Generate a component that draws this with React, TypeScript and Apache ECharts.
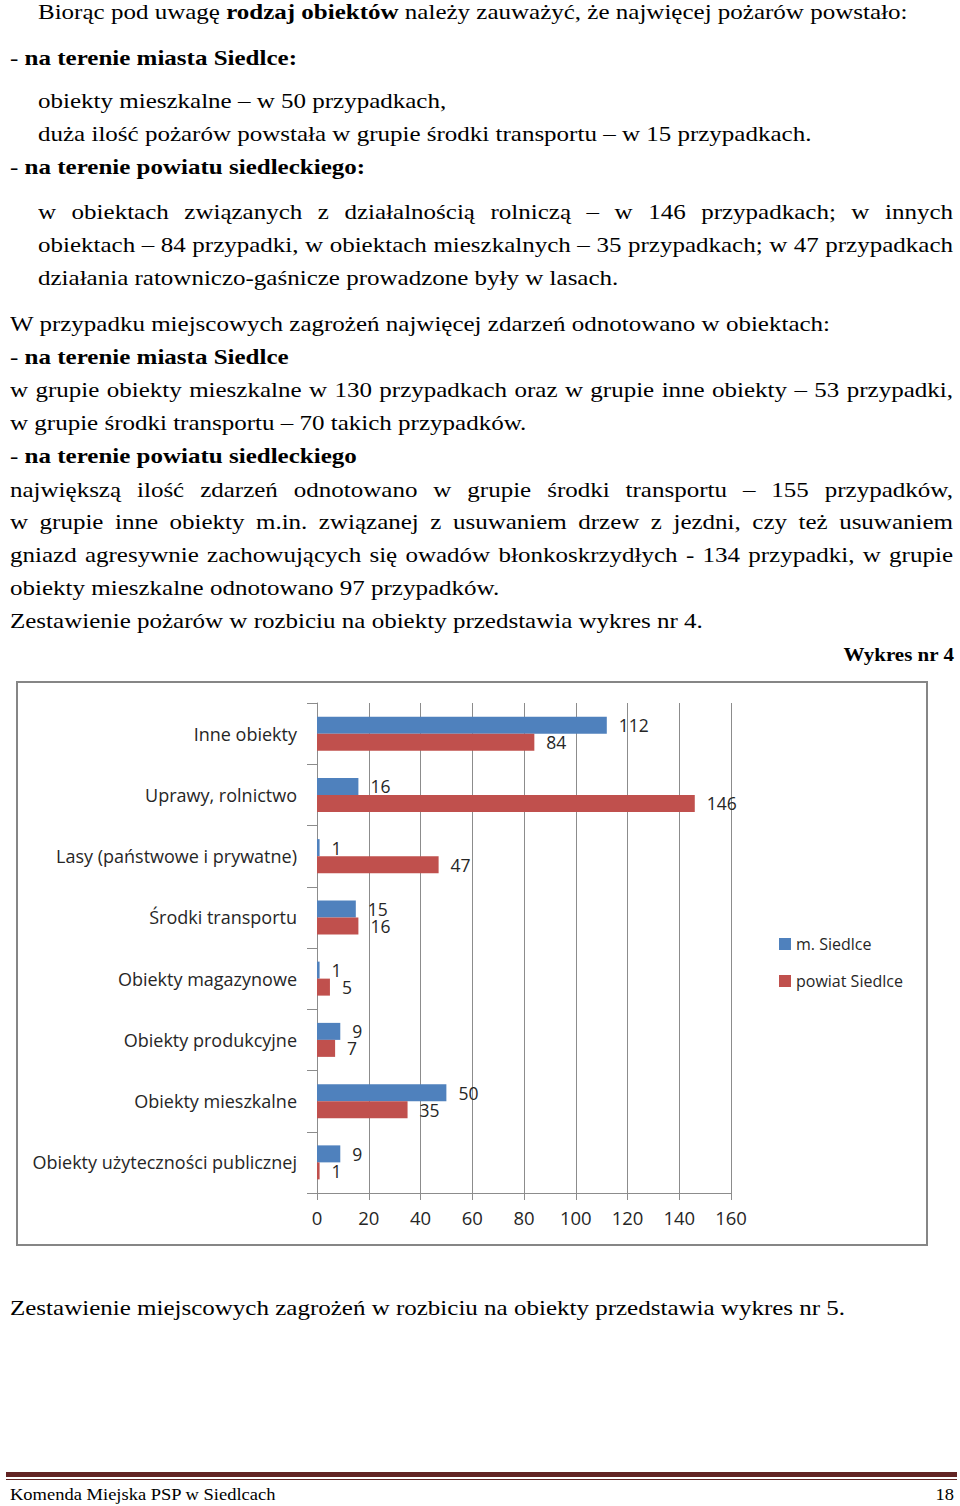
import React, { useEffect, useRef } from "react";
import * as echarts from "echarts";

const categories = [
  "Inne obiekty",
  "Uprawy, rolnictwo",
  "Lasy (państwowe i prywatne)",
  "Środki transportu",
  "Obiekty magazynowe",
  "Obiekty produkcyjne",
  "Obiekty mieszkalne",
  "Obiekty użyteczności publicznej",
];
const miastoSiedlce = [112, 16, 1, 15, 1, 9, 50, 9];
const powiatSiedlce = [84, 146, 47, 16, 5, 7, 35, 1];
const seriesNames = ["m. Siedlce", "powiat Siedlce"];
const axisMin = 0;
const axisMax = 160;
const axisStep = 20;

const SY = 0.85;
const LH = 0.9;
const DY = 1.5;
const SERIF = '"Liberation Serif", "Times New Roman", serif';

type LineProps = {
  x: number;
  base: number;
  size?: number;
  width?: number;
  right?: boolean;
  children: React.ReactNode;
};

function Line({ x, base, size = 25, width, right, children }: LineProps) {
  const asc = (0.891 - (1.107 - LH) / 2) * size;
  const style: React.CSSProperties = {
    position: "absolute",
    top: base + DY - asc,
    fontSize: size,
    lineHeight: size * LH + "px",
    fontFamily: SERIF,
    color: "#000",
    whiteSpace: "nowrap",
    transform: `scaleY(${SY})`,
    transformOrigin: `0 ${asc}px`,
  };
  if (right) {
    style.right = 960 - x;
    style.textAlign = "right";
  } else {
    style.left = x;
  }
  if (width) {
    style.width = width;
    style.textAlign = "justify";
    (style as any).textAlignLast = "justify";
  }
  return <div style={style}>{children}</div>;
}

function Chart() {
  const ref = useRef<HTMLDivElement>(null);
  useEffect(() => {
    if (!ref.current) return;
    const chart = echarts.init(ref.current, undefined, { renderer: "svg" });
    const font = '"Open Sans", sans-serif';
    const txt = "#262626";
    const grey = "#8c8c8c";
    const labelCfg = {
      show: true,
      position: "right",
      distance: 12,
      fontSize: 17.5,
      color: txt,
      fontFamily: font,
    };
    chart.setOption({
      animation: false,
      backgroundColor: "#fff",
      textStyle: { fontFamily: font },
      grid: { left: 301, right: 197, top: 22, bottom: 53, containLabel: false },
      xAxis: {
        type: "value",
        min: axisMin,
        max: axisMax,
        interval: axisStep,
        axisLine: { show: true, lineStyle: { color: grey, width: 1 } },
        axisTick: { show: true, length: 7, lineStyle: { color: grey } },
        splitLine: { show: true, lineStyle: { color: grey, width: 1 } },
        axisLabel: { fontSize: 18.5, color: txt, margin: 15, fontFamily: font },
      },
      yAxis: {
        type: "category",
        data: categories,
        inverse: true,
        axisLine: { show: true, lineStyle: { color: grey, width: 1 } },
        axisTick: { show: true, length: 10, lineStyle: { color: grey } },
        axisLabel: { fontSize: 18, color: txt, margin: 20, fontFamily: font },
      },
      legend: {
        orient: "vertical",
        left: 758,
        top: 250,
        itemWidth: 12,
        itemHeight: 12,
        itemGap: 21,
        icon: "rect",
        data: seriesNames,
        textStyle: { fontSize: 16, color: txt, fontFamily: font },
      },
      series: [
        {
          name: seriesNames[0],
          type: "bar",
          data: miastoSiedlce,
          barWidth: 17,
          barGap: "0%",
          itemStyle: { color: "#4F81BD" },
          label: labelCfg,
        },
        {
          name: seriesNames[1],
          type: "bar",
          data: powiatSiedlce,
          barWidth: 17,
          barGap: "0%",
          itemStyle: { color: "#C0504D" },
          label: labelCfg,
        },
      ],
      graphic: [
        {
          type: "rect",
          silent: true,
          z: 100,
          shape: { x: 1, y: 1, width: 910, height: 563 },
          style: { fill: "none", stroke: "#868686", lineWidth: 2 },
        },
      ],
    });
    return () => chart.dispose();
  }, []);
  return (
    <div
      ref={ref}
      style={{ position: "absolute", left: 16, top: 681, width: 912, height: 565 }}
    />
  );
}

export default function App() {
  const B = (t: string) => <b>{t}</b>;
  return (
    <div
      style={{
        position: "absolute",
        left: 0,
        top: 0,
        width: 960,
        height: 1506,
        background: "#fff",
        overflow: "hidden",
      }}
    >
      <Line x={38} base={18}>
        Biorąc pod uwagę {B("rodzaj obiektów")} należy zauważyć, że najwięcej pożarów powstało:
      </Line>
      <Line x={10} base={64}>
        - {B("na terenie miasta Siedlce:")}
      </Line>
      <Line x={38} base={107}>obiekty mieszkalne – w 50 przypadkach,</Line>
      <Line x={38} base={140}>
        duża ilość pożarów powstała w grupie środki transportu – w 15 przypadkach.
      </Line>
      <Line x={10} base={173}>
        - {B("na terenie powiatu siedleckiego:")}
      </Line>
      <Line x={38} base={218} width={915}>
        w obiektach związanych z działalnością rolniczą – w 146 przypadkach; w innych
      </Line>
      <Line x={38} base={251} width={915}>
        obiektach – 84 przypadki, w obiektach mieszkalnych – 35 przypadkach; w 47 przypadkach
      </Line>
      <Line x={38} base={284}>działania ratowniczo-gaśnicze prowadzone były w lasach.</Line>
      <Line x={10} base={330}>
        W przypadku miejscowych zagrożeń najwięcej zdarzeń odnotowano w obiektach:
      </Line>
      <Line x={10} base={363}>
        - {B("na terenie miasta Siedlce")}
      </Line>
      <Line x={10} base={396} width={943}>
        w grupie obiekty mieszkalne w 130 przypadkach oraz w grupie inne obiekty – 53 przypadki,
      </Line>
      <Line x={10} base={429}>w grupie środki transportu – 70 takich przypadków.</Line>
      <Line x={10} base={462}>
        - {B("na terenie powiatu siedleckiego")}
      </Line>
      <Line x={10} base={496} width={943}>
        największą ilość zdarzeń odnotowano w grupie środki transportu – 155 przypadków,
      </Line>
      <Line x={10} base={528} width={943}>
        w grupie inne obiekty m.in. związanej z usuwaniem drzew z jezdni, czy też usuwaniem
      </Line>
      <Line x={10} base={561} width={943}>
        gniazd agresywnie zachowujących się owadów błonkoskrzydłych - 134 przypadki, w grupie
      </Line>
      <Line x={10} base={594}>obiekty mieszkalne odnotowano 97 przypadków.</Line>
      <Line x={10} base={627}>
        Zestawienie pożarów w rozbiciu na obiekty przedstawia wykres nr 4.
      </Line>
      <Line x={954} base={660} size={21} right>
        {B("Wykres nr 4")}
      </Line>
      <Chart />
      <Line x={10} base={1314}>
        Zestawienie miejscowych zagrożeń w rozbiciu na obiekty przedstawia wykres nr 5.
      </Line>
      <div
        style={{
          position: "absolute",
          left: 6,
          top: 1472,
          width: 951,
          height: 5,
          background: "#622423",
        }}
      />
      <div
        style={{
          position: "absolute",
          left: 6,
          top: 1479,
          width: 951,
          height: 1,
          background: "#622423",
        }}
      />
      <Line x={10} base={1499} size={18.5}>
        Komenda Miejska PSP w Siedlcach
      </Line>
      <Line x={954} base={1499} size={18.5} right>
        18
      </Line>
    </div>
  );
}
